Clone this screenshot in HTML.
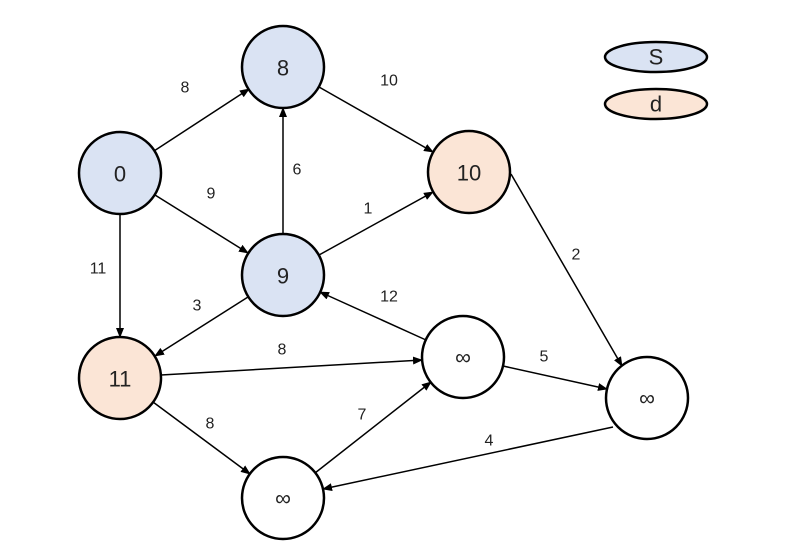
<!DOCTYPE html>
<html><head><style>body{margin:0;background:#fff}svg{display:block}text{font-family:"Liberation Sans","DejaVu Sans",sans-serif;text-anchor:middle;dominant-baseline:central;fill:#222}</style></head><body>
<svg width="785" height="557" viewBox="0 0 785 557">
<defs><marker id="a" markerWidth="10" markerHeight="8" refX="9" refY="4" orient="auto" markerUnits="userSpaceOnUse"><path d="M0,0L10,4L0,8z" fill="#000"/></marker></defs>
<g stroke="#000" stroke-width="1.5" marker-end="url(#a)">
<line x1="154" y1="151" x2="249" y2="89"/>
<line x1="155" y1="195" x2="248" y2="253"/>
<line x1="120" y1="214" x2="120" y2="337"/>
<line x1="283" y1="234" x2="283" y2="108"/>
<line x1="319" y1="87" x2="433" y2="152"/>
<line x1="319" y1="255" x2="433" y2="192"/>
<line x1="511" y1="174" x2="622" y2="366"/>
<line x1="248" y1="297" x2="155" y2="356"/>
<line x1="426" y1="340" x2="320" y2="292"/>
<line x1="161" y1="375" x2="422" y2="360"/>
<line x1="503" y1="366" x2="607" y2="389"/>
<line x1="153" y1="402" x2="250" y2="474"/>
<line x1="315" y1="473" x2="431" y2="382"/>
<line x1="613" y1="427" x2="323" y2="489"/>
</g>
<g stroke="#000" stroke-width="2.5">
<circle cx="120" cy="173" r="41" fill="#dae3f3"/>
<circle cx="283" cy="67" r="41" fill="#dae3f3"/>
<circle cx="469" cy="172" r="41" fill="#fbe5d6"/>
<circle cx="283" cy="275" r="41" fill="#dae3f3"/>
<circle cx="120" cy="378" r="41" fill="#fbe5d6"/>
<circle cx="463" cy="357" r="41" fill="#fff"/>
<circle cx="647" cy="398" r="41" fill="#fff"/>
<circle cx="283" cy="498" r="41" fill="#fff"/>
<ellipse cx="656" cy="57" rx="51" ry="15" fill="#dae3f3"/>
<ellipse cx="656" cy="104" rx="51" ry="15" fill="#fbe5d6"/>
</g>
<g font-size="22">
<text x="120" y="174">0</text><text x="283" y="68">8</text><text x="469" y="173">10</text><text x="283" y="276">9</text><text x="120" y="379">11</text>
<text x="463" y="357">∞</text><text x="647" y="398">∞</text><text x="283" y="498">∞</text>
<text x="656" y="57">S</text><text x="656" y="104">d</text>
</g>
<g font-size="16">
<text x="185" y="88">8</text><text x="211" y="194">9</text><text x="98" y="269">11</text><text x="297" y="170">6</text><text x="389" y="81">10</text><text x="368" y="209">1</text><text x="576" y="255">2</text><text x="197" y="306">3</text><text x="389" y="297">12</text><text x="282" y="350">8</text><text x="544" y="357">5</text><text x="210" y="424">8</text><text x="362" y="415">7</text><text x="489" y="441">4</text>
</g>
</svg>
</body></html>
